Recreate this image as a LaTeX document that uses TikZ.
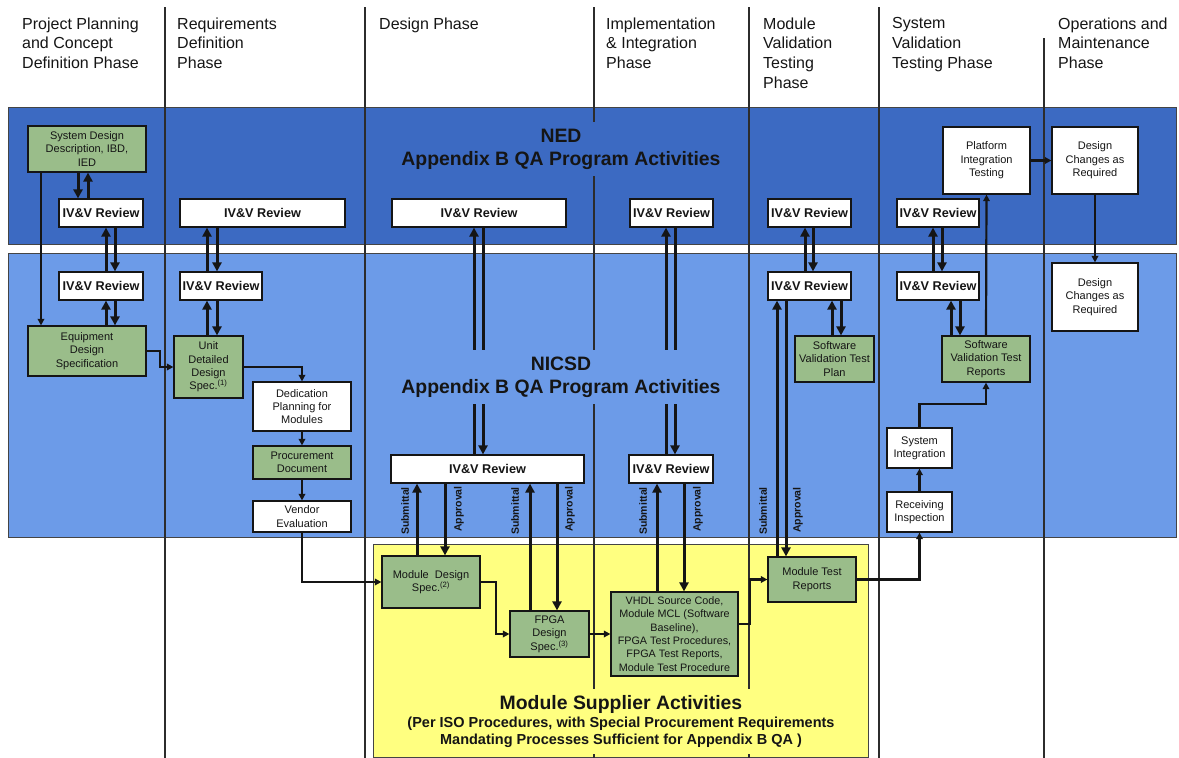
\documentclass[tikz,border=0pt]{standalone}
\usepackage{fontspec}
\setmainfont{Liberation Sans}
\usetikzlibrary{arrows.meta}
\definecolor{nedblue}{HTML}{3C6AC2}
\definecolor{nicsdblue}{HTML}{6C9BE8}
\definecolor{supyellow}{HTML}{FFFF80}
\definecolor{docgreen}{HTML}{9ABD8A}
\definecolor{ink}{HTML}{151515}

\begin{document}
\begin{tikzpicture}[x=1pt,y=-1pt,
  every node/.style={text=ink},
  box/.style={draw=ink, line width=1.2pt, inner sep=0pt, align=center,
    font=\fontsize{11}{13.4}\selectfont},
  docbox/.style={box, fill=docgreen},
  plainbox/.style={box, fill=white},
  review/.style={box, fill=white, font=\bfseries\fontsize{12.7}{14}\selectfont},
  sz/.style 2 args={minimum width=#1pt, minimum height=#2pt},
  xchg/.style={draw=ink, line width=3pt, -{Triangle[length=9pt,width=9pt]}},
  flow/.style={draw=ink, line width=2.2pt, -{Triangle[length=6.5pt,width=6.5pt]}},
  heavyflow/.style={flow, line width=2.8pt},
  phase/.style={anchor=north west, align=left, inner sep=0pt,
    font=\fontsize{16}{19.6}\selectfont},
  colline/.style={draw=ink!90, line width=1.1pt},
  band/.style={draw=ink!80, line width=1pt},
  tag/.style={rotate=90, inner sep=0pt, font=\bfseries\fontsize{10.5}{12}\selectfont},
  bandtitle/.style={align=center, inner xsep=4pt, inner ysep=7pt,
    font=\bfseries\fontsize{19.4}{23}\selectfont},
]
\useasboundingbox (0,0) rectangle (1179,758);

% activity bands
\path[band, fill=nedblue] (8,107) rectangle (1176,244);
\path[band, fill=nicsdblue] (8,253) rectangle (1176,537);
\path[band, fill=supyellow] (373,544) rectangle (868,757);

% phase separators
\foreach \cx in {165,365,594,749,879}
  \draw[colline] (\cx,7) -- (\cx,758);
\draw[colline] (1044,38) -- (1044,758);

% phase headings
\node[phase] (ph1) at (22,17.5) {Project Planning\\and Concept\\Definition Phase};
\node[phase] (ph2) at (177,17.5) {Requirements\\Definition\\Phase};
\node[phase] (ph3) at (379,17.5) {Design Phase};
\node[phase] (ph4) at (606,17.5) {Implementation\\\& Integration\\Phase};
\node[phase] (ph5) at (763,17.5) {Module\\Validation\\Testing\\Phase};
\node[phase] (ph6) at (892,17.5) {System\\Validation\\Testing Phase};
\node[phase] (ph7) at (1058,17.5) {Operations and\\Maintenance\\Phase};

% documents and reviews
\node[docbox, sz={118}{46}] (sdd) at (87,149) {System Design\\Description, IBD,\\IED};
\node[review, sz={84}{28}] (ivA1) at (101,213) {IV\&V Review};
\node[review, sz={84}{28}] (ivB1) at (101,286) {IV\&V Review};
\node[docbox, sz={118}{50}] (eds) at (87,351) {Equipment\\Design\\Specification};

\node[review, sz={165}{28}] (ivA2) at (262.5,213) {IV\&V Review};
\node[review, sz={82}{28}] (ivB2) at (221,286) {IV\&V Review};
\node[docbox, sz={69}{62}] (udds) at (208.5,367) {Unit\\Detailed\\Design\\Spec.\textsuperscript{(1)}};
\node[plainbox, sz={98}{49}] (ded) at (302,406.5) {Dedication\\Planning for\\Modules};
\node[docbox, sz={98}{33}] (proc) at (302,462.5) {Procurement\\Document};
\node[plainbox, sz={98}{31}] (vend) at (302,516.5) {Vendor\\Evaluation};

\node[review, sz={174}{28}] (ivA3) at (479,213) {IV\&V Review};
\node[review, sz={83}{28}] (ivA4) at (671.5,213) {IV\&V Review};
\node[review, sz={193}{28}] (ivB3) at (487.5,469) {IV\&V Review};
\node[review, sz={84}{28}] (ivB4) at (671,469) {IV\&V Review};
\node[docbox, sz={98}{52}] (mds) at (431,582) {Module\ \ Design\\Spec.\textsuperscript{(2)}};
\node[docbox, sz={79}{46}] (fpga) at (549.5,634) {FPGA\\Design\\Spec.\textsuperscript{(3)}};
\node[docbox, sz={127}{84}, font=\fontsize{10.8}{13.3}\selectfont] (vhdl) at (674.5,634)
  {VHDL Source Code,\\Module MCL (Software\\Baseline),\\FPGA Test Procedures,\\FPGA Test Reports,\\Module Test Procedure};

\node[docbox, sz={88}{45}] (mtr) at (812,579.5) {Module Test\\Reports};
\node[review, sz={83}{28}] (ivA5) at (809.5,213) {IV\&V Review};
\node[review, sz={83}{28}] (ivB5) at (809.5,286) {IV\&V Review};
\node[docbox, sz={79}{46}] (svtp) at (834.5,359) {Software\\Validation Test\\Plan};

\node[review, sz={82}{28}] (ivA6) at (938,213) {IV\&V Review};
\node[review, sz={82}{28}] (ivB6) at (938,286) {IV\&V Review};
\node[docbox, sz={88}{46}] (svtr) at (986,359) {Software\\Validation Test\\Reports};
\node[plainbox, sz={87}{67}] (pit) at (986.5,160.5) {Platform\\Integration\\Testing};
\node[plainbox, sz={65}{40}] (si) at (919.5,448) {System\\Integration};
\node[plainbox, sz={65}{40}] (ri) at (919.5,512) {Receiving\\Inspection};

\node[plainbox, sz={86}{67}] (dc1) at (1095,160.5) {Design\\Changes as\\Required};
\node[plainbox, sz={86}{68}] (dc2) at (1095,297) {Design\\Changes as\\Required};

% review exchanges
\draw[xchg] (78,0 |- sdd.south) -- (78,0 |- ivA1.north);
\draw[xchg] (88,0 |- ivA1.north) -- (88,0 |- sdd.south);
\draw[xchg] (106,0 |- ivB1.north) -- (106,0 |- ivA1.south);
\draw[xchg] (115,0 |- ivA1.south) -- (115,0 |- ivB1.north);
\draw[xchg] (106,0 |- eds.north) -- (106,0 |- ivB1.south);
\draw[xchg] (115,0 |- ivB1.south) -- (115,0 |- eds.north);

\draw[xchg] (207,0 |- ivB2.north) -- (207,0 |- ivA2.south);
\draw[xchg] (217,0 |- ivA2.south) -- (217,0 |- ivB2.north);
\draw[xchg] (207,0 |- udds.north) -- (207,0 |- ivB2.south);
\draw[xchg] (217,0 |- ivB2.south) -- (217,0 |- udds.north);

\draw[xchg] (474,0 |- ivB3.north) -- (474,0 |- ivA3.south);
\draw[xchg] (483,0 |- ivA3.south) -- (483,0 |- ivB3.north);
\draw[xchg] (666,0 |- ivB4.north) -- (666,0 |- ivA4.south);
\draw[xchg] (675,0 |- ivA4.south) -- (675,0 |- ivB4.north);

\draw[xchg] (417,0 |- mds.north) -- (417,0 |- ivB3.south);
\draw[xchg] (445,0 |- ivB3.south) -- (445,0 |- mds.north);
\draw[xchg] (530,0 |- fpga.north) -- (530,0 |- ivB3.south);
\draw[xchg] (557,0 |- ivB3.south) -- (557,0 |- fpga.north);
\draw[xchg] (657,0 |- vhdl.north) -- (657,0 |- ivB4.south);
\draw[xchg] (684,0 |- ivB4.south) -- (684,0 |- vhdl.north);

\draw[xchg] (777,0 |- mtr.north) -- (777,0 |- ivB5.south);
\draw[xchg] (786,0 |- ivB5.south) -- (786,0 |- mtr.north);
\draw[xchg] (805,0 |- ivB5.north) -- (805,0 |- ivA5.south);
\draw[xchg] (813,0 |- ivA5.south) -- (813,0 |- ivB5.north);
\draw[xchg] (832,0 |- svtp.north) -- (832,0 |- ivB5.south);
\draw[xchg] (841,0 |- ivB5.south) -- (841,0 |- svtp.north);

\draw[xchg] (933,0 |- ivB6.north) -- (933,0 |- ivA6.south);
\draw[xchg] (942,0 |- ivA6.south) -- (942,0 |- ivB6.north);
\draw[xchg] (951,0 |- svtr.north) -- (951,0 |- ivB6.south);
\draw[xchg] (960,0 |- ivB6.south) -- (960,0 |- svtr.north);

% document flow
\draw[flow] (41,0 |- sdd.south) -- (41,0 |- eds.north);
\draw[flow] (eds.east) -- (160,351) |- (udds.west);
\draw[flow] (udds.east) -| (ded.north);
\draw[flow] (ded.south) -- (proc.north);
\draw[flow] (proc.south) -- (vend.north);
\draw[flow] (vend.south) |- (mds.west);
\draw[flow] (mds.east) -- (496,582) |- (fpga.west);
\draw[flow] (fpga.east) -- (vhdl.west |- fpga.east);
\draw[flow] (vhdl.east |- 0,624) -- (750,624) |- (mtr.west);
\draw[flow] (mtr.east) -| (ri.south);
\draw[flow] (ri.north) -- (si.south);
\draw[flow] (si.north) |- (986,404) -- (svtr.south);
\draw[flow] (svtr.north) -- (pit.south);
\draw[heavyflow] (pit.east) -- (dc1.west);
\draw[heavyflow] (dc1.south) -- (dc2.north);

% submittal / approval tags
\node[tag] (sub1) at (405,511) {Submittal};
\node[tag] (app1) at (459,509) {Approval};
\node[tag] (sub2) at (515,511) {Submittal};
\node[tag] (app2) at (570,509) {Approval};
\node[tag] (sub3) at (643,511) {Submittal};
\node[tag] (app3) at (698,509) {Approval};
\node[tag] (sub4) at (763,511) {Submittal};
\node[tag] (app4) at (798,510) {Approval};

% band titles
\node[bandtitle, fill=nedblue] (nedtitle) at (561,149)
  {NED\\Appendix B QA Program Activities};
\node[bandtitle, fill=nicsdblue] (nicsdtitle) at (561,377)
  {NICSD\\Appendix B QA Program Activities};
\node[bandtitle, fill=supyellow, inner ysep=6pt,
  font=\bfseries\fontsize{14.5}{17.5}\selectfont] (suptitle) at (621,721.5)
  {{\fontsize{19.4}{22}\selectfont Module Supplier Activities}\\
   (Per ISO Procedures, with Special Procurement Requirements\\
   Mandating Processes Sufficient for Appendix B QA )};
\end{tikzpicture}
\end{document}
